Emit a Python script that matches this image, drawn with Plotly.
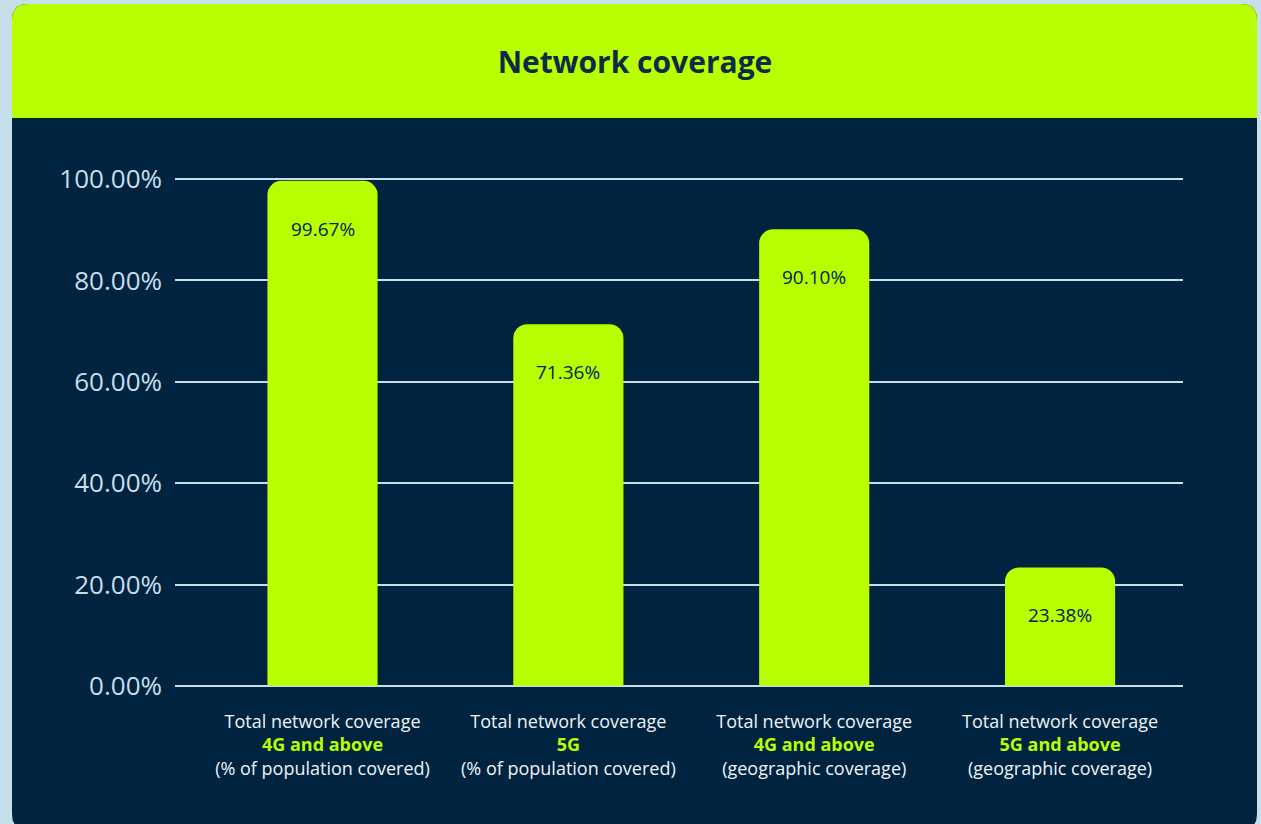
import plotly.graph_objects as go

categories = ["4G_pop", "5G_pop", "4G_geo", "5G_geo"]
line1 = ["Total network coverage"] * 4
line2 = ["4G and above", "5G", "4G and above", "5G and above"]
line3 = ["(% of population covered)", "(% of population covered)",
         "(geographic coverage)", "(geographic coverage)"]
values = [99.67, 71.36, 90.10, 23.38]
tick_vals = [0, 20, 40, 60, 80, 100]

LIME = "#b8ff00"
NAVY = "#002440"
LIGHT = "#c6dfea"
TITLE_C = "#0d2a46"

W, H = 1261, 824
ML, MR, MT, MB = 175, 78, 169, 128
PW = W - ML - MR
PH = H - MT - MB
FONT = "Open Sans"


def px_to_paper(x, y):
    return (x - ML) / PW, (H - MB - y) / PH


def rrect(x0, y0, x1, y1, rtop, rbot):
    def P(x, y):
        a, b = px_to_paper(x, y)
        return f"{a:.5f},{b:.5f}"
    d = f"M {P(x0 + rtop, y0)} L {P(x1 - rtop, y0)} "
    d += f"Q {P(x1, y0)} {P(x1, y0 + rtop)} " if rtop else ""
    d += f"L {P(x1, y1 - rbot)} "
    d += f"Q {P(x1, y1)} {P(x1 - rbot, y1)} " if rbot else ""
    d += f"L {P(x0 + rbot, y1)} "
    d += f"Q {P(x0, y1)} {P(x0, y1 - rbot)} " if rbot else ""
    d += f"L {P(x0, y0 + rtop)} "
    d += f"Q {P(x0, y0)} {P(x0 + rtop, y0)} " if rtop else ""
    d += "Z"
    return d


ticktext = [f"{a}<br><b><span style='color:{LIME}'>{b}</span></b><br>{c}"
            for a, b, c in zip(line1, line2, line3)]

fig = go.Figure()
fig.add_trace(go.Bar(
    x=categories, y=values, marker=dict(color=LIME, line=dict(width=0)),
    width=0.448, hoverinfo="skip",
))

shapes = [
    dict(type="path", xref="paper", yref="paper", layer="below",
         path=rrect(12, 4, 1257, 830, 16, 16), fillcolor=NAVY, line=dict(width=0)),
    dict(type="path", xref="paper", yref="paper", layer="below",
         path=rrect(12, 4, 1257, 118, 16, 0), fillcolor=LIME, line=dict(width=0)),
]

annotations = [
    dict(x=c, y=v, xref="x", yref="y", text=f"{v:.2f}%", showarrow=False,
         yshift=-48, font=dict(family=FONT, size=19, color=NAVY))
    for c, v in zip(categories, values)
]

fig.update_layout(
    width=W, height=H,
    margin=dict(l=ML, r=MR, t=MT, b=MB, pad=0),
    paper_bgcolor=LIGHT, plot_bgcolor="rgba(0,0,0,0)",
    title=dict(text="<b>Network coverage</b>", x=635 / W, xanchor="center",
               y=1 - 62 / H, yanchor="middle",
               font=dict(family=FONT, size=30, color=TITLE_C)),
    shapes=shapes, annotations=annotations,
    showlegend=False,
    barcornerradius=14,
    xaxis=dict(range=[-0.6, 3.5], tickvals=categories, ticktext=ticktext,
               showgrid=False, zeroline=False, showline=False,
               tickfont=dict(family=FONT, size=18, color="#eef2f5"),
               ticks="", ticklabelstandoff=13),
    yaxis=dict(range=[-2, 102], tickvals=tick_vals,
               ticktext=[f"{t:.2f}%" for t in tick_vals],
               showgrid=True, gridcolor=LIGHT, gridwidth=2,
               zeroline=False, showline=False, ticks="",
               tickfont=dict(family=FONT, size=26, color=LIGHT),
               ticklabelstandoff=12),
)

fig.write_html("out.html")
